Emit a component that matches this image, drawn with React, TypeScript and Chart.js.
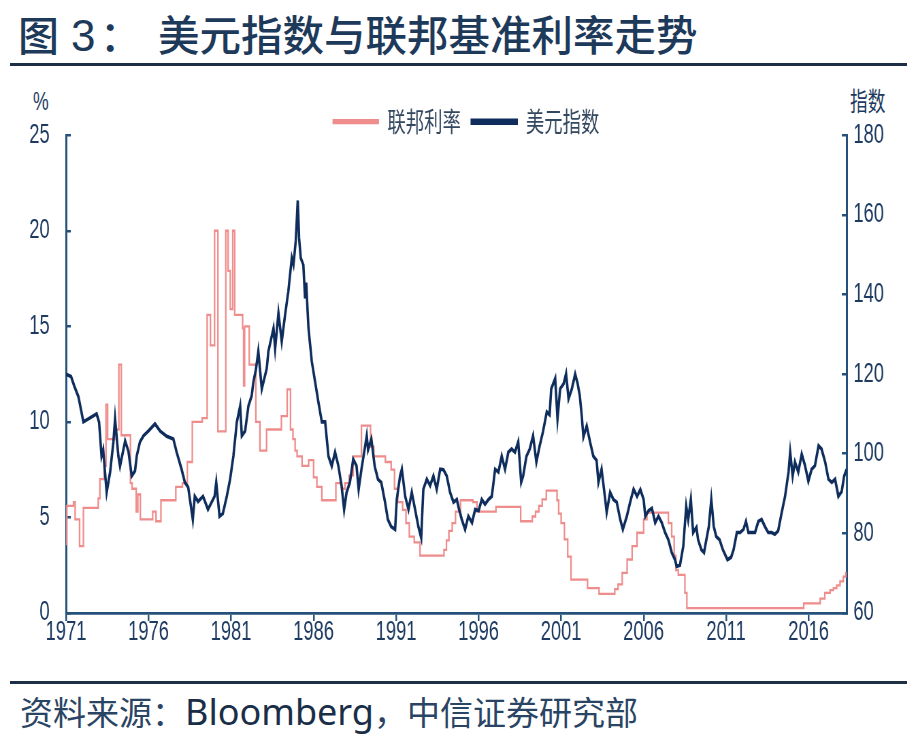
import { useEffect, useRef } from 'react';
import { Chart, registerables } from 'chart.js';

Chart.register(...registerables);

// ---- data ----
const xTickYears = [1971, 1976, 1981, 1986, 1991, 1996, 2001, 2006, 2011, 2016];
const xMin = 1971;
const xMax = 2018.3;
const rateAxis = { min: 0, max: 25, step: 5 };
const indexAxis = { min: 60, max: 180, step: 20 };
const seriesNames = ['联邦利率', '美元指数'];

// [year, %] change points of the federal funds rate
const fedFundsRate: [number, number][] = [
  [1971.0, 3.6], [1971.05, 5.6], [1971.45, 5.8], [1971.55, 4.9], [1971.82, 3.5],
  [1972.05, 5.5], [1972.95, 6.0], [1973.05, 7.0], [1973.3, 7.7], [1973.42, 10.9],
  [1973.52, 9.1], [1973.95, 9.6], [1974.2, 13.0], [1974.35, 9.3], [1974.9, 6.8],
  [1975.0, 6.5], [1975.25, 5.3], [1975.35, 6.2], [1975.5, 4.9], [1976.25, 5.3],
  [1976.45, 4.8], [1976.75, 5.9], [1977.65, 6.6], [1978.05, 6.8], [1978.35, 7.9],
  [1978.65, 10.0], [1979.25, 10.2], [1979.55, 15.6], [1979.75, 14.0], [1980.0, 20.0],
  [1980.2, 9.5], [1980.68, 20.0], [1980.82, 17.9], [1980.95, 15.9], [1981.1, 20.0],
  [1981.22, 15.6], [1981.7, 14.9], [1981.76, 11.9], [1981.82, 15.0], [1982.1, 13.0],
  [1982.5, 10.0], [1982.75, 8.5], [1983.15, 9.6], [1984.05, 10.3], [1984.4, 11.7],
  [1984.6, 9.6], [1984.75, 9.1], [1984.88, 8.5], [1985.0, 8.2], [1985.3, 7.7],
  [1985.7, 8.0], [1986.0, 7.1], [1986.2, 6.6], [1986.5, 5.9], [1987.35, 6.8],
  [1987.7, 6.5], [1987.9, 6.8], [1988.15, 7.2], [1988.4, 8.2], [1988.9, 9.8],
  [1989.45, 8.7], [1989.65, 8.2], [1990.35, 7.9], [1990.7, 7.5], [1990.9, 6.5],
  [1991.1, 5.8], [1991.4, 5.4], [1991.6, 4.7], [1991.8, 4.0], [1992.1, 3.7],
  [1992.45, 3.0], [1993.9, 3.3], [1994.05, 3.8], [1994.2, 4.3], [1994.4, 4.7],
  [1994.6, 5.3], [1994.9, 5.9], [1995.65, 5.8], [1995.9, 5.3], [1997.05, 5.55],
  [1998.55, 4.8], [1999.25, 5.05], [1999.45, 5.3], [1999.65, 5.6], [1999.85, 5.95],
  [2000.1, 6.4], [2000.75, 5.9], [2000.85, 5.2], [2001.0, 4.7], [2001.2, 3.85],
  [2001.4, 2.95], [2001.6, 1.75], [2002.6, 1.3], [2003.3, 1.0], [2004.25, 1.25],
  [2004.45, 1.5], [2004.7, 2.1], [2005.0, 2.8], [2005.3, 3.5], [2005.6, 4.2],
  [2006.0, 4.9], [2006.2, 5.25], [2007.5, 4.7], [2007.7, 4.0], [2007.85, 3.0],
  [2007.95, 2.25], [2008.1, 2.0], [2008.5, 1.05], [2008.62, 0.25], [2015.7, 0.5],
  [2016.7, 0.75], [2016.98, 1.05], [2017.3, 1.2], [2017.5, 1.3], [2017.7, 1.45],
  [2017.9, 1.65], [2018.1, 1.9], [2018.25, 2.1], [2018.3, 2.1],
];

// [year, index] samples of the US dollar index
const dollarIndex: [number, number][] = [
  [1971.0, 120], [1971.3, 119.4], [1971.5, 117], [1971.75, 114.3], [1972.05, 108],
  [1972.25, 108.5], [1972.65, 109.5], [1972.85, 110], [1973.0, 108], [1973.15, 99.4],
  [1973.25, 101], [1973.36, 95.4], [1973.46, 90.3], [1973.67, 95.4], [1973.87, 103],
  [1973.97, 108.8], [1974.17, 99.4], [1974.27, 96.9], [1974.58, 103.2], [1974.78, 100.6],
  [1974.98, 94.4], [1975.18, 95.7], [1975.28, 99.4], [1975.48, 103], [1975.69, 104.5],
  [1975.99, 105.7], [1976.39, 107.5], [1976.7, 105.7], [1977.1, 104.4], [1977.5, 103.7],
  [1977.7, 100.4], [1978.0, 96.1], [1978.2, 92.8], [1978.4, 91.6], [1978.68, 83.5],
  [1978.8, 89.3], [1979.0, 88], [1979.3, 89.3], [1979.6, 86], [1980.0, 89.3],
  [1980.1, 92.8], [1980.3, 84.3], [1980.5, 85], [1980.74, 89.3], [1980.94, 93.6],
  [1981.14, 99.4], [1981.35, 108], [1981.55, 112], [1981.65, 104.5], [1981.85, 105.7],
  [1982.05, 112], [1982.25, 114.6], [1982.35, 118], [1982.5, 121], [1982.65, 125.7],
  [1982.86, 116.3], [1983.16, 121.4], [1983.26, 125.7], [1983.57, 131.5], [1983.67, 126.4],
  [1983.87, 135.3], [1984.07, 128.2], [1984.27, 134.8], [1984.47, 140.8], [1984.68, 149.2],
  [1984.78, 147.5], [1984.92, 153.5], [1985.04, 163.6], [1985.12, 154.2], [1985.22, 149.2],
  [1985.38, 147.4], [1985.48, 139], [1985.55, 143], [1985.69, 131.5], [1985.89, 123.2],
  [1986.09, 118.1], [1986.29, 113], [1986.5, 108], [1986.7, 108], [1986.9, 99.4],
  [1987.1, 96.9], [1987.3, 100.4], [1987.5, 97], [1987.7, 91.8], [1987.85, 86],
  [1988.0, 90.3], [1988.2, 92.8], [1988.4, 98.6], [1988.6, 97], [1988.73, 91.1],
  [1988.9, 96.1], [1989.22, 104.5], [1989.3, 101], [1989.5, 103.7], [1989.7, 96.9],
  [1989.9, 93.6], [1990.1, 92.8], [1990.33, 87.8], [1990.5, 83.5], [1990.7, 81.7],
  [1990.94, 81], [1991.04, 88.5], [1991.24, 94.4], [1991.35, 96.1], [1991.55, 89.3],
  [1991.75, 86], [1991.95, 90.3], [1992.15, 86], [1992.35, 81.7], [1992.52, 78.9],
  [1992.65, 91.1], [1992.86, 93.6], [1993.06, 92], [1993.26, 94.4], [1993.46, 91.1],
  [1993.67, 96.1], [1993.87, 96], [1994.07, 94.4], [1994.27, 90.3], [1994.48, 87.8],
  [1994.68, 88.5], [1994.8, 86.3], [1994.98, 83.5], [1995.18, 81], [1995.38, 84.3],
  [1995.6, 82.7], [1995.79, 86], [1996.0, 85.7], [1996.19, 88.5], [1996.39, 87.3],
  [1996.6, 88.5], [1996.8, 89.3], [1997.0, 96.1], [1997.2, 95.4], [1997.4, 99.4],
  [1997.6, 96.1], [1997.8, 100.4], [1998.0, 101.2], [1998.2, 100.4], [1998.4, 103],
  [1998.58, 92.8], [1998.7, 94.4], [1998.9, 99.4], [1999.1, 101.2], [1999.3, 104.5],
  [1999.5, 97.9], [1999.7, 102], [1999.9, 105.5], [2000.13, 110.5], [2000.3, 109.8],
  [2000.4, 116.3], [2000.64, 118.9], [2000.78, 108.8], [2000.94, 116.3], [2001.15, 117.6],
  [2001.3, 120.1], [2001.45, 113.8], [2001.65, 116.3], [2001.85, 120], [2002.0, 117.6],
  [2002.13, 114.6], [2002.25, 109.5], [2002.35, 104.2], [2002.55, 107], [2002.75, 103],
  [2002.95, 99.4], [2003.15, 98.3], [2003.26, 92.8], [2003.45, 96.1], [2003.65, 89.3],
  [2003.76, 85.3], [2003.97, 90.3], [2004.17, 88.5], [2004.37, 87.8], [2004.58, 83.5],
  [2004.74, 81], [2004.98, 84.3], [2005.18, 87.8], [2005.39, 91.1], [2005.6, 89.3],
  [2005.8, 91], [2006.0, 88.5], [2006.1, 84.3], [2006.3, 85.7], [2006.5, 86.3],
  [2006.7, 82.7], [2006.9, 84.3], [2007.1, 82.7], [2007.3, 80.2], [2007.5, 78.4],
  [2007.7, 75.2], [2007.9, 73.4], [2008.0, 71.7], [2008.2, 72], [2008.4, 76.7],
  [2008.58, 86.8], [2008.7, 83.5], [2008.86, 88.5], [2009.0, 80.2], [2009.2, 81.5],
  [2009.3, 78.4], [2009.5, 75.9], [2009.66, 75.2], [2009.8, 78.4], [2009.95, 81.7],
  [2010.1, 88.5], [2010.25, 81.7], [2010.4, 79.2], [2010.6, 78.4], [2010.8, 75.9],
  [2011.08, 73.4], [2011.3, 74], [2011.45, 75.9], [2011.65, 80.2], [2011.85, 80.2],
  [2012.05, 81], [2012.2, 83], [2012.35, 80.2], [2012.55, 80.2], [2012.75, 80.2],
  [2012.95, 83], [2013.15, 83.5], [2013.35, 81.7], [2013.55, 80.2], [2013.75, 80.2],
  [2013.95, 79.8], [2014.15, 80.6], [2014.37, 85.3], [2014.57, 89.3], [2014.78, 95.4],
  [2014.88, 100.4], [2015.03, 94.4], [2015.17, 97.9], [2015.37, 95.4], [2015.58, 99.9],
  [2015.78, 97], [2015.98, 93.1], [2016.18, 96.1], [2016.38, 97], [2016.6, 102],
  [2016.78, 101.2], [2017.0, 97.9], [2017.2, 93.6], [2017.4, 92.8], [2017.6, 93.6],
  [2017.8, 89.3], [2018.0, 90.5], [2018.15, 94.4], [2018.3, 96.1],
];

// ---- styling ----
const S = 0.68; // horizontal squeeze of the chart canvas (condensed look)
const CJK = '"Noto Sans CJK SC", "Noto Sans", sans-serif';
const LATIN = '"Liberation Sans", Arial, sans-serif';
const AXIS = '#24507a';
const TICK = '#1d3a60';
const NAVY = '#0e2d5c';
const PINK = '#ef8c8c';
const TITLE = '#1e3a5a';
const CANVAS_TOP = 88;
const CANVAS_H = 575;

export default function App() {
  const ref = useRef<HTMLCanvasElement | null>(null);

  useEffect(() => {
    if (!ref.current) return;
    const tickFont = { family: LATIN, size: 27 };
    const chart = new Chart(ref.current, {
      type: 'line',
      data: {
        datasets: [
          {
            label: seriesNames[0],
            data: fedFundsRate.map(([x, y]) => ({ x, y })),
            yAxisID: 'y',
            borderColor: PINK,
            backgroundColor: PINK,
            borderWidth: 2.3,
            pointRadius: 0,
            stepped: true,
            order: 1,
          },
          {
            label: seriesNames[1],
            data: dollarIndex.map(([x, y]) => ({ x, y })),
            yAxisID: 'y1',
            borderColor: NAVY,
            backgroundColor: NAVY,
            borderWidth: 3.6,
            pointRadius: 0,
            tension: 0,
            order: 0,
          },
        ],
      },
      options: {
        animation: false,
        responsive: true,
        maintainAspectRatio: false,
        layout: { padding: { left: 22, right: 0, top: 0, bottom: 0 } },
        plugins: {
          legend: {
            display: true,
            position: 'top',
            maxHeight: 43,
            labels: {
              boxWidth: 66,
              boxHeight: 3,
              padding: 16,
              color: '#33475f',
              font: { family: CJK, size: 27 },
              sort: (a: any, b: any) => a.datasetIndex - b.datasetIndex,
            },
          },
          tooltip: { enabled: false },
        },
        scales: {
          x: {
            type: 'linear',
            position: 'bottom',
            min: xMin,
            max: xMax,
            afterBuildTicks: (sc: any) => {
              sc.ticks = xTickYears.map((v) => ({ value: v }));
            },
            afterFit: (sc: any) => {
              sc.height = 50;
            },
            grid: { drawOnChartArea: false, drawTicks: true, tickLength: 8, color: AXIS, lineWidth: 2.5 },
            border: { display: true, color: AXIS, width: 2.8 },
            ticks: {
              callback: (v: any) => String(v),
              font: { ...tickFont, lineHeight: 0.85 },
              color: TICK,
              padding: 0,
              maxRotation: 0,
              autoSkip: false,
            },
          },
          y: {
            position: 'left',
            min: rateAxis.min,
            max: rateAxis.max,
            afterFit: (sc: any) => {
              sc.width = 66 / S - 22;
            },
            grid: { drawOnChartArea: false, drawTicks: true, tickLength: -7, color: AXIS, lineWidth: 2.5 },
            border: { display: true, color: AXIS, width: 3 },
            ticks: { stepSize: rateAxis.step, font: tickFont, color: TICK, padding: 31 },
          },
          y1: {
            position: 'right',
            min: indexAxis.min,
            max: indexAxis.max,
            afterFit: (sc: any) => {
              sc.width = (917 - 846) / S;
            },
            grid: { drawOnChartArea: false, drawTicks: true, tickLength: -7, color: AXIS, lineWidth: 2.5 },
            border: { display: true, color: AXIS, width: 3 },
            ticks: { stepSize: indexAxis.step, font: tickFont, color: TICK, padding: 17 },
          },
        },
      },
    } as any);
    return () => chart.destroy();
  }, []);

  const abs = (s: any) => ({ position: 'absolute' as const, whiteSpace: 'nowrap' as const, margin: 0, ...s });

  return (
    <div style={{ position: 'absolute', left: 0, top: 0, width: 917, height: 745, overflow: 'hidden', background: '#fff' }}>
      {/* title */}
      <div style={abs({ left: 18, top: 13, fontFamily: CJK, fontSize: 41, lineHeight: '41px', color: TITLE, fontWeight: 500 })}>图</div>
      <div style={abs({ left: 71, top: 14, fontFamily: LATIN, fontSize: 44, lineHeight: '44px', color: TITLE })}>3</div>
      <div style={abs({ left: 100, top: 13, fontFamily: CJK, fontSize: 41, lineHeight: '41px', color: TITLE, fontWeight: 500 })}>：</div>
      <div style={abs({ left: 158, top: 13, fontFamily: CJK, fontSize: 41.5, lineHeight: '41px', color: TITLE, fontWeight: 500 })}>
        美元指数与联邦基准利率走势
      </div>
      <div style={abs({ left: 10, top: 63, width: 897, height: 3, background: '#1c2f44' })} />

      {/* axis unit labels */}
      <div style={abs({ left: 33, top: 88, fontFamily: LATIN, fontSize: 26, lineHeight: '26px', color: TICK, transform: `scaleX(${S})`, transformOrigin: '0 0' })}>%</div>
      <div style={abs({ left: 850, top: 87, fontFamily: CJK, fontSize: 26, lineHeight: '26px', color: TICK, transform: `scaleX(${S})`, transformOrigin: '0 0' })}>指数</div>

      {/* chart canvas, squeezed horizontally */}
      <div style={abs({ left: 0, top: CANVAS_TOP, width: 917 / S, height: CANVAS_H, transform: `scaleX(${S})`, transformOrigin: '0 0' })}>
        <canvas ref={ref} />
      </div>

      {/* footer */}
      <div style={abs({ left: 10, top: 681, width: 897, height: 3, background: '#1c2f44' })} />
      <div style={abs({ left: 20, top: 693, fontFamily: CJK, fontSize: 33, lineHeight: '36px', color: '#2a4463' })}>
        资料来源：<span style={{ fontFamily: '"Noto Sans", sans-serif', fontSize: 36, fontWeight: 400, color: '#1a2e48' }}>Bloomberg</span>，中信证券研究部
      </div>
    </div>
  );
}
